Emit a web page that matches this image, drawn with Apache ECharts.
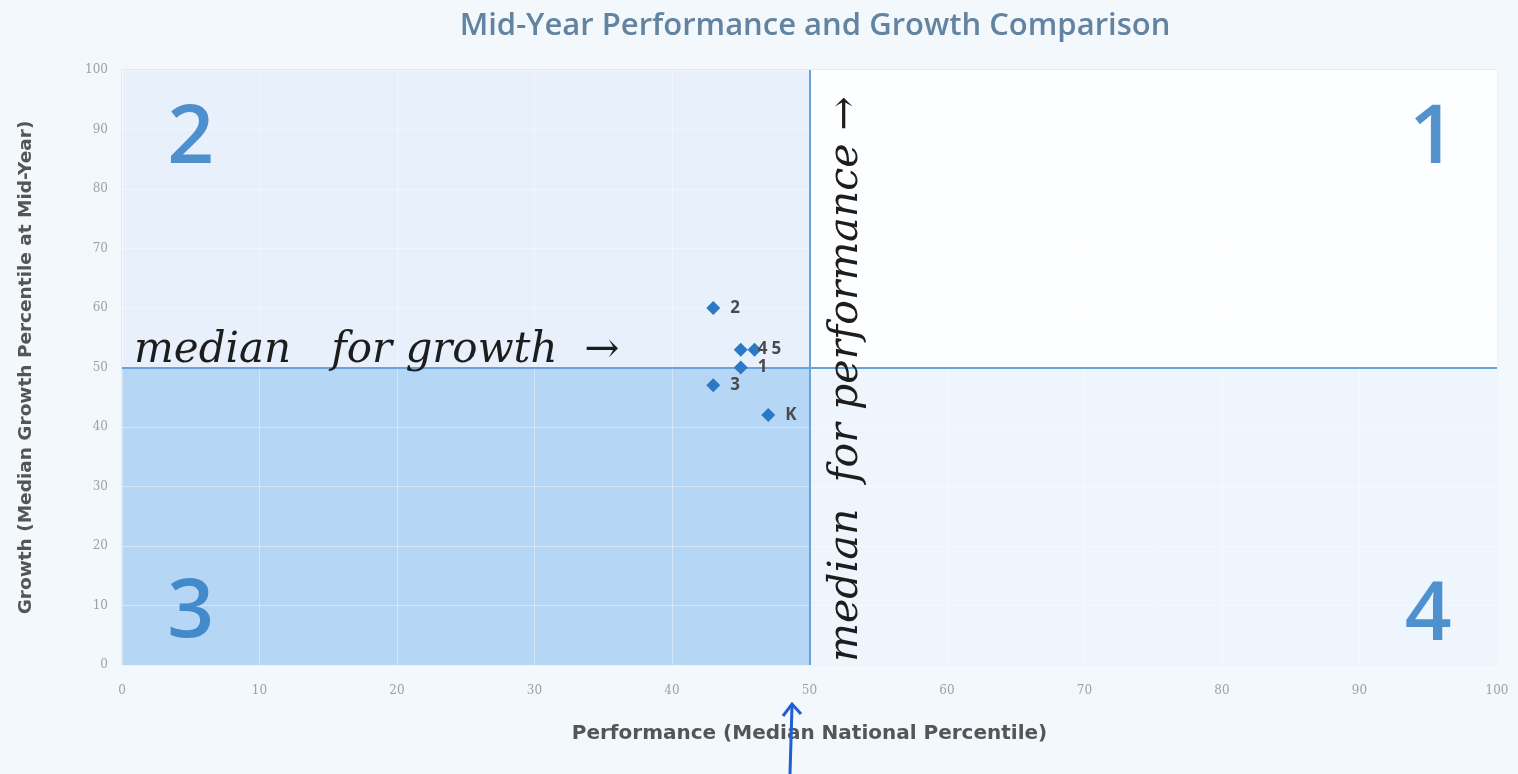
<!DOCTYPE html>
<html>
<head>
<meta charset="utf-8">
<title>Mid-Year Performance and Growth Comparison</title>
<script src="https://cdn.jsdelivr.net/npm/echarts@6/dist/echarts.min.js"></script>
<style>
  html, body { margin: 0; padding: 0; background: #f3f8fd; }
  #main { width: 1518px; height: 774px; }
</style>
</head>
<body>
<div id="main"></div>
<script>
// grade levels and their medians
var grades = ['2', '4', '5', '1', '3', 'K'];
var performance = [43, 45, 46, 45, 43, 47];
var growth = [60, 53, 53, 50, 47, 42];

// quadrant numbers, placed in data coords
var quadNames = ['2', '1', '3', '4'];
var quadX = [5, 95.3, 5, 95];
var quadY = [88.3, 88.3, 8.7, 8.2];

var medianPerf = 50;
var medianGrowth = 50;

var chart = echarts.init(document.getElementById('main'));

var points = grades.map(function (g, i) {
    return { name: g, value: [performance[i], growth[i]] };
});
var quads = quadNames.map(function (q, i) {
    return { name: q, value: [quadX[i], quadY[i]] };
});

chart.setOption({
    backgroundColor: '#f3f8fd',
    title: {
        text: 'Mid-Year Performance and Growth Comparison',
        left: 810,
        textAlign: 'center',
        top: 6,
        textStyle: { fontFamily: 'Open Sans', fontSize: 31, fontWeight: 600, color: '#6384a0' }
    },
    grid: { left: 122, right: 21, top: 70, bottom: 109, show: true, borderColor: '#c9dcef', borderWidth: 1 },
    xAxis: {
        type: 'value', min: 0, max: 100, interval: 10, z: 3,
        name: 'Performance (Median National Percentile)',
        nameLocation: 'middle', nameGap: 59,
        nameTextStyle: { fontFamily: 'DejaVu Sans', fontSize: 20, fontWeight: 'bold', color: '#555' },
        axisLine: { show: false }, axisTick: { show: false },
        axisLabel: { color: '#a0a0a0', fontFamily: 'DejaVu Serif', fontSize: 12, margin: 20 },
        splitLine: { lineStyle: { color: 'rgba(255,255,255,0.4)', width: 1 } }
    },
    yAxis: {
        type: 'value', min: 0, max: 100, interval: 10, z: 3,
        name: 'Growth (Median Growth Percentile at Mid-Year)',
        nameLocation: 'middle', nameGap: 86,
        nameTextStyle: { fontFamily: 'DejaVu Sans', fontSize: 18.5, fontWeight: 'bold', color: '#555' },
        axisLine: { show: false }, axisTick: { show: false },
        axisLabel: { color: '#a0a0a0', fontFamily: 'DejaVu Serif', fontSize: 12, margin: 14 },
        splitLine: { lineStyle: { color: 'rgba(255,255,255,0.4)', width: 1 } }
    },
    series: [
        {
            // quadrant shading
            type: 'scatter',
            data: [],
            z: 1,
            silent: true,
            markArea: {
                silent: true,
                data: [
                    [{ coord: [0, medianGrowth], itemStyle: { color: '#e8f1fb' } }, { coord: [medianPerf, 100] }],
                    [{ coord: [medianPerf, medianGrowth], itemStyle: { color: '#fdfeff' } }, { coord: [100, 100] }],
                    [{ coord: [0, 0], itemStyle: { color: '#b6d6f5' } }, { coord: [medianPerf, medianGrowth] }],
                    [{ coord: [medianPerf, 0], itemStyle: { color: '#eef5fc' } }, { coord: [100, medianGrowth] }]
                ]
            }
        },
        {
            type: 'scatter',
            data: points,
            symbol: 'diamond',
            symbolSize: 14,
            itemStyle: { color: '#2b78c4', opacity: 1 },
            label: {
                show: true, position: 'right', distance: 10,
                formatter: '{b}',
                fontFamily: 'Open Sans', fontSize: 17, fontWeight: 'bold', color: '#4a4a4a'
            },
            z: 5,
            markLine: {
                silent: true,
                symbol: 'none',
                label: { show: false },
                lineStyle: { color: '#6aa3d9', width: 2, type: 'solid' },
                data: [{ xAxis: medianPerf }, { yAxis: medianGrowth }]
            }
        },
        {
            type: 'scatter',
            data: quads,
            symbolSize: 1,
            itemStyle: { color: 'rgba(0,0,0,0)' },
            silent: true,
            label: {
                show: true, position: 'inside', formatter: '{b}',
                fontFamily: 'Open Sans', fontSize: 82, fontWeight: 600, color: '#2777c2'
            },
            z: 4
        }
    ],
    graphic: [
        {
            type: 'text', left: 134, top: 330, z: 20,
            style: { text: 'median   for growth  \u2192', fontFamily: 'DejaVu Serif', fontStyle: 'italic', fontSize: 42, fill: '#1d1d1d' }
        },
        {
            type: 'text', x: 826, y: 662, rotation: Math.PI / 2, z: 20,
            style: { text: 'median  for performance \u2192', fontFamily: 'DejaVu Serif', fontStyle: 'italic', fontSize: 41, fill: '#1d1d1d' }
        },
        {
            type: 'polyline', z: 20,
            shape: { points: [[790, 774], [792, 706]] },
            style: { stroke: '#1f5fd1', lineWidth: 3, fill: null }
        },
        {
            type: 'polyline', z: 20,
            shape: { points: [[783, 716], [792, 704], [801, 714]] },
            style: { stroke: '#1f5fd1', lineWidth: 3, fill: null }
        }
    ]
});
</script>
</body>
</html>
